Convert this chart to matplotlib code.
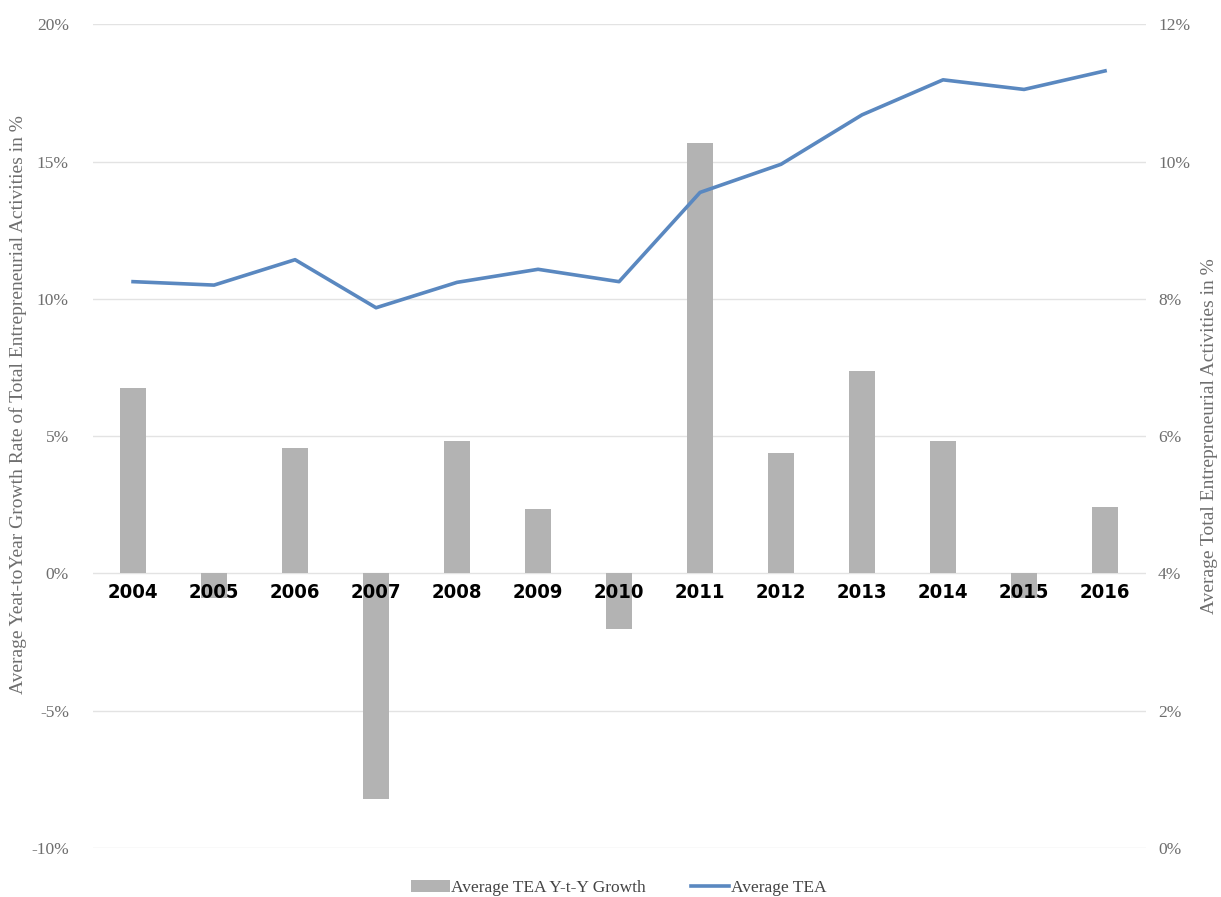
import matplotlib
matplotlib.use("Agg")
import matplotlib.pyplot as plt
from matplotlib.ticker import FuncFormatter
from matplotlib.patches import Patch
from matplotlib.lines import Line2D

# data
years = ["2004", "2005", "2006", "2007", "2008", "2009", "2010",
         "2011", "2012", "2013", "2014", "2015", "2016"]
yty_growth = [6.75, -0.9, 4.56, -8.2, 4.82, 2.34, -2.04,
              15.66, 4.38, 7.37, 4.82, -0.9, 2.41]
avg_tea = [8.25, 8.2, 8.57, 7.87, 8.24, 8.43, 8.25,
           9.55, 9.96, 10.68, 11.19, 11.05, 11.32]

bar_color = "#b3b3b3"
line_color = "#5a88c0"
tick_color = "#6e6e6e"
serif = "Liberation Serif"

fig = plt.figure(figsize=(12.21, 8.97), dpi=100)
ax = fig.add_axes([0.0758, 0.0546, 0.8624, 0.9184])
ax2 = ax.twinx()

x = list(range(len(years)))

# bars on left axis
ax.bar(x, yty_growth, width=0.32, color=bar_color, zorder=2)
ax.set_ylim(-10, 20)
ax.set_yticks([-10, -5, 0, 5, 10, 15, 20])
ax.yaxis.set_major_formatter(FuncFormatter(lambda v, p: f"{v:.0f}%"))
ax.set_xlim(-0.5, len(years) - 0.5)
ax.grid(axis="y", color="#e3e3e3", linewidth=1, zorder=0)
ax.set_axisbelow(True)
ax.set_xticks([])

# year labels just under the zero line, drawn over the bars
for xi, yr in zip(x, years):
    ax.annotate(yr, (xi, 0), xytext=(0, -7), textcoords="offset points",
                ha="center", va="top", fontfamily="DejaVu Sans",
                fontstretch="condensed", fontweight="bold", fontsize=14.5,
                color="black", zorder=10)

ax.tick_params(axis="y", length=0, pad=17, labelcolor=tick_color, labelsize=12.5)
for lbl in ax.get_yticklabels():
    lbl.set_fontfamily(serif)
for s in ["top", "right", "left", "bottom"]:
    ax.spines[s].set_visible(False)
ax.set_ylabel("Average Yeat-toYear Growth Rate of Total Entrepreneurial Activities in %",
              fontfamily=serif, fontsize=14, color=tick_color)
ax.yaxis.set_label_coords(-0.062, 0.538)

# line on right axis
ax2.plot(x, avg_tea, color=line_color, linewidth=2.6, zorder=3)
ax2.set_ylim(0, 12)
ax2.set_yticks([0, 2, 4, 6, 8, 10, 12])
ax2.yaxis.set_major_formatter(FuncFormatter(lambda v, p: f"{v:.0f}%"))
ax2.tick_params(axis="y", length=0, pad=9, labelcolor=tick_color, labelsize=12.5)
for lbl in ax2.get_yticklabels():
    lbl.set_fontfamily(serif)
for s in ["top", "right", "left", "bottom"]:
    ax2.spines[s].set_visible(False)
ax2.set_ylabel("Average Total Entrepreneurial Activities in %",
               fontfamily=serif, fontsize=14, color=tick_color)
ax2.yaxis.set_label_coords(1.053, 0.5)

handles = [Patch(facecolor=bar_color, edgecolor="none"),
           Line2D([0], [0], color=line_color, linewidth=2.6)]
fig.legend(handles, ["Average TEA Y-t-Y Growth", "Average TEA"],
           loc="lower center", bbox_to_anchor=(0.507, -0.016), ncol=2, frameon=False,
           prop={"family": serif, "size": 12.5}, handlelength=2.2, handletextpad=0.1,
           columnspacing=2.6, labelcolor="#444444")

fig.savefig("out.png", dpi=100)
